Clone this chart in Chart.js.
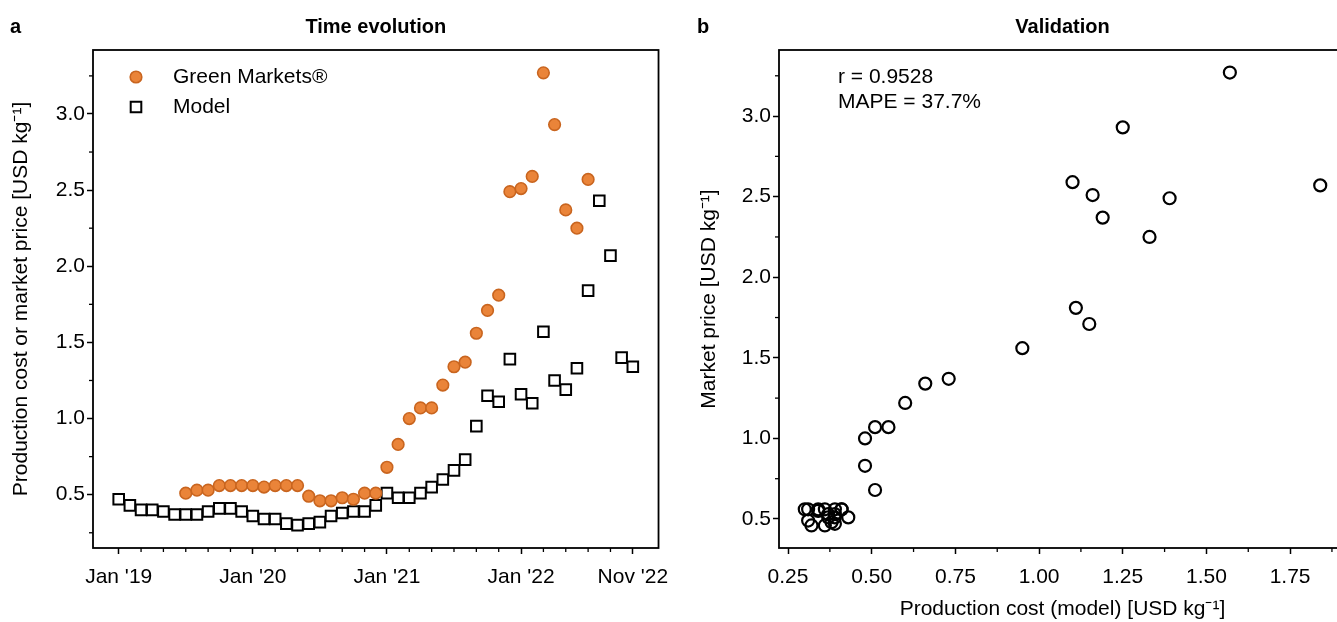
<!DOCTYPE html>
<html>
<head>
<meta charset="utf-8">
<title>Time evolution / Validation</title>
<script src="https://cdn.jsdelivr.net/npm/chart.js@4.4.1/dist/chart.umd.min.js"></script>
<style>
  html, body { margin: 0; padding: 0; background: #fff; overflow: hidden; }
  #wrap { position: relative; width: 1337px; height: 622px; overflow: hidden; }
  #chartA { position: absolute; left: 0; top: 0; }
  #chartB { position: absolute; left: 680px; top: 0; }
</style>
</head>
<body>
<div id="wrap">
  <canvas id="chartA" width="680" height="622"></canvas>
  <canvas id="chartB" width="700" height="622"></canvas>
</div>
<script>
// Monthly series, month 0 = Jan 2019, month 46 = Nov 2022.
const modelCost = [
  0.47, 0.43, 0.40, 0.40, 0.39, 0.37, 0.37, 0.37, 0.39, 0.41, 0.41, 0.39,
  0.36, 0.34, 0.34, 0.31, 0.30, 0.31, 0.32, 0.36, 0.38, 0.39, 0.39, 0.43,
  0.51, 0.48, 0.48, 0.51, 0.55, 0.60, 0.66, 0.73, 0.95, 1.15, 1.11, 1.39,
  1.16, 1.10, 1.57, 1.25, 1.19, 1.33, 1.84, 2.43, 2.07, 1.40, 1.34
];
const marketPrice = [
  null, null, null, null, null, null, 0.51, 0.53, 0.53, 0.56, 0.56, 0.56,
  0.56, 0.55, 0.56, 0.56, 0.56, 0.49, 0.46, 0.46, 0.48, 0.47, 0.51, 0.51,
  0.68, 0.83, 1.00, 1.07, 1.07, 1.22, 1.34, 1.37, 1.56, 1.71, 1.81, 2.49,
  2.51, 2.59, 3.27, 2.93, 2.37, 2.25, 2.57, null, null, null, null
];

// Tick positions and labels.
const xTickMonths = [0, 12, 24, 36, 46];
const xTickLabels = ["Jan '19", "Jan '20", "Jan '21", "Jan '22", "Nov '22"];
const xMinorMonths = [2, 4, 6, 8, 10, 14, 16, 18, 20, 22, 26, 28, 30, 32, 34, 38, 40, 42, 44];
const priceTicks = [0.5, 1.0, 1.5, 2.0, 2.5, 3.0];
const priceMinor = [0.25, 0.75, 1.25, 1.75, 2.25, 2.75, 3.25];
const costTicks = [0.25, 0.50, 0.75, 1.00, 1.25, 1.50, 1.75];
const costMinor = [0.375, 0.625, 0.875, 1.125, 1.375, 1.625, 1.875];

const notes = ['r = 0.9528', 'MAPE = 37.7%'];

const FONT = "'Liberation Sans', Arial, sans-serif";
Chart.defaults.font.family = FONT;
Chart.defaults.font.size = 21;
Chart.defaults.color = '#000';

// Box, minor ticks, panel letter, title, legend and notes.
const panelDecor = {
  id: 'panelDecor',
  afterDraw: function(chart, args, opts) {
    const ctx = chart.ctx;
    const a = chart.chartArea;
    ctx.save();
    ctx.strokeStyle = '#000';
    ctx.lineWidth = 1.8;
    ctx.strokeRect(a.left, a.top, a.right - a.left, a.bottom - a.top);

    ctx.lineWidth = 1.3;
    (opts.minor || []).forEach(function(m) {
      const s = chart.scales[m.axis];
      m.values.forEach(function(v) {
        if (v < s.min || v > s.max) {
          return;
        }
        const p = s.getPixelForValue(v);
        ctx.beginPath();
        if (m.axis === 'x') {
          ctx.moveTo(p, a.bottom);
          ctx.lineTo(p, a.bottom + 4);
        } else {
          ctx.moveTo(a.left, p);
          ctx.lineTo(a.left - 4, p);
        }
        ctx.stroke();
      });
    });

    ctx.fillStyle = '#000';
    ctx.textBaseline = 'middle';
    ctx.font = 'bold 20px ' + FONT;
    ctx.textAlign = 'left';
    ctx.fillText(opts.letter, opts.letterX, 27);
    ctx.textAlign = 'center';
    ctx.fillText(opts.title, (a.left + a.right) / 2, 27);

    ctx.font = '21px ' + FONT;
    ctx.textAlign = 'left';
    if (opts.legend) {
      chart.data.datasets.forEach(function(ds, i) {
        const y = a.top + 27 + i * 30;
        ctx.fillStyle = ds.backgroundColor;
        ctx.strokeStyle = ds.borderColor;
        ctx.lineWidth = ds.borderWidth;
        Chart.helpers.drawPoint(ctx, {
          pointStyle: ds.pointStyle,
          radius: ds.pointRadius,
          borderWidth: ds.borderWidth,
          rotation: 0
        }, a.left + 43, y);
        ctx.fillStyle = '#000';
        ctx.fillText(ds.label, a.left + 80, y);
      });
    }
    (opts.notes || []).forEach(function(n, i) {
      ctx.fillText(n, a.left + 59, a.top + 27 + i * 25);
    });
    ctx.restore();
  }
};

const tickGrid = {
  drawOnChartArea: false,
  tickLength: 6,
  tickWidth: 1.5,
  tickColor: '#000'
};

// Panel a: time evolution.
new Chart(document.getElementById('chartA'), {
  type: 'scatter',
  data: {
    datasets: [
      {
        label: 'Green Markets®',
        data: marketPrice.map(function(v, i) { return { x: i, y: v }; }),
        pointStyle: 'circle',
        pointRadius: 5.8,
        borderWidth: 1.6,
        backgroundColor: '#ea8439',
        borderColor: '#c9651f'
      },
      {
        label: 'Model',
        data: modelCost.map(function(v, i) { return { x: i, y: v }; }),
        pointStyle: 'rect',
        pointRadius: 7.5,
        borderWidth: 2,
        backgroundColor: '#ffffff',
        borderColor: '#000000'
      }
    ]
  },
  options: {
    responsive: false,
    animation: false,
    devicePixelRatio: 1,
    layout: { padding: { top: 50, right: 20, left: 0, bottom: 0 } },
    plugins: {
      legend: { display: false },
      tooltip: { enabled: false },
      panelDecor: {
        letter: 'a',
        letterX: 10,
        title: 'Time evolution',
        legend: true,
        minor: [
          { axis: 'x', values: xMinorMonths },
          { axis: 'y', values: priceMinor }
        ]
      }
    },
    scales: {
      x: {
        type: 'linear',
        min: -2.3,
        max: 48.3,
        border: { display: false },
        grid: tickGrid,
        afterBuildTicks: function(s) {
          s.ticks = xTickMonths.map(function(v) { return { value: v }; });
        },
        ticks: {
          padding: 11,
          maxRotation: 0,
          autoSkip: false,
          callback: function(v) { return xTickLabels[xTickMonths.indexOf(v)]; }
        },
        afterFit: function(s) { s.height = 74; }
      },
      y: {
        min: 0.15,
        max: 3.42,
        border: { display: false },
        grid: tickGrid,
        afterBuildTicks: function(s) {
          s.ticks = priceTicks.map(function(v) { return { value: v }; });
        },
        ticks: {
          padding: 2,
          autoSkip: false,
          callback: function(v) { return v.toFixed(1); }
        },
        title: {
          display: true,
          text: 'Production cost or market price [USD kg⁻¹]',
          padding: { top: 9, bottom: 0 }
        },
        afterFit: function(s) { s.width = 93; }
      }
    }
  },
  plugins: [panelDecor]
});

// Panel b: validation, model cost against market price for the same month.
const pairs = [];
marketPrice.forEach(function(v, i) {
  if (v !== null) {
    pairs.push({ x: modelCost[i], y: v });
  }
});

new Chart(document.getElementById('chartB'), {
  type: 'scatter',
  data: {
    datasets: [
      {
        label: 'Validation',
        data: pairs,
        pointStyle: 'circle',
        pointRadius: 6,
        borderWidth: 2.2,
        backgroundColor: 'rgba(0,0,0,0)',
        borderColor: '#000000'
      }
    ]
  },
  options: {
    responsive: false,
    animation: false,
    devicePixelRatio: 1,
    layout: { padding: { top: 50, right: 34, left: 0, bottom: 0 } },
    plugins: {
      legend: { display: false },
      tooltip: { enabled: false },
      panelDecor: {
        letter: 'b',
        letterX: 17,
        title: 'Validation',
        notes: notes,
        minor: [
          { axis: 'x', values: costMinor },
          { axis: 'y', values: priceMinor }
        ]
      }
    },
    scales: {
      x: {
        type: 'linear',
        min: 0.223,
        max: 1.917,
        border: { display: false },
        grid: tickGrid,
        afterBuildTicks: function(s) {
          s.ticks = costTicks.map(function(v) { return { value: v }; });
        },
        ticks: {
          padding: 11,
          maxRotation: 0,
          autoSkip: false,
          callback: function(v) { return v.toFixed(2); }
        },
        title: {
          display: true,
          text: 'Production cost (model) [USD kg⁻¹]',
          padding: { top: 0, bottom: 0 }
        },
        afterFit: function(s) { s.height = 74; }
      },
      y: {
        min: 0.32,
        max: 3.41,
        border: { display: false },
        grid: tickGrid,
        afterBuildTicks: function(s) {
          s.ticks = priceTicks.map(function(v) { return { value: v }; });
        },
        ticks: {
          padding: 2,
          autoSkip: false,
          callback: function(v) { return v.toFixed(1); }
        },
        title: {
          display: true,
          text: 'Market price [USD kg⁻¹]',
          padding: { top: 17, bottom: 0 }
        },
        afterFit: function(s) { s.width = 99; }
      }
    }
  },
  plugins: [panelDecor]
});
</script>
</body>
</html>
